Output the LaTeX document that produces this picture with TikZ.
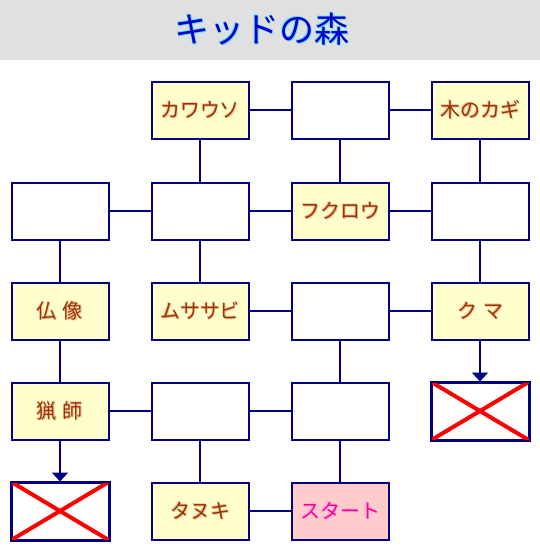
\documentclass[tikz,border=0pt]{standalone}
\usepackage{fontspec}
\newfontfamily\jp{Noto Sans CJK JP}
\usetikzlibrary{arrows.meta}
\definecolor{navy}{HTML}{000080}
\definecolor{yel}{HTML}{FFFFCC}
\definecolor{pinkf}{HTML}{FFCCCC}
\definecolor{txt}{HTML}{993300}
\definecolor{pinkt}{HTML}{FF0099}
\definecolor{ttl}{HTML}{0000CC}
\definecolor{band}{HTML}{E0E0E0}
\definecolor{glowo}{HTML}{F2C8A0}
\definecolor{glowp}{HTML}{FFB0D8}
\definecolor{glowc}{HTML}{70E0F0}
\newcommand\glowtxt[2]{\leavevmode\rlap{\textcolor{#2}{\kern1pt\raisebox{-1pt}{#1}}}\rlap{\textcolor{#2}{\kern-0.7pt\raisebox{0.7pt}{#1}}}\rlap{\textcolor{#2}{\kern0.5pt{#1}}}#1}
\tikzset{
  room/.style={draw=navy, line width=2pt, fill=white, minimum width=97pt, minimum height=57pt, inner sep=0pt, font=\jp\fontsize{20}{20}\selectfont, text=txt},
  item/.style={room, fill=yel},
  startbox/.style={room, fill=pinkf, text=pinkt},
  link/.style={draw=navy, line width=2pt},
  arr/.style={link, -{Triangle[width=16pt,length=9pt]}},
  cross/.style={draw=red, line width=4pt}
}
\begin{document}
\begin{tikzpicture}[x=1pt,y=-1pt]
\useasboundingbox (0,0) rectangle (540,550);
\fill[band] (0,0) rectangle (540,60);
\node[font=\jp\fontsize{35}{35}\selectfont, text=ttl] (title) at (262,29) {\glowtxt{キッドの森}{glowc}};
% row 1
\node[item] (a2) at (200,110) {\glowtxt{カワウソ}{glowo}};
\node[room] (a3) at (340,110) {};
\node[item] (a4) at (480,110) {\glowtxt{木のカギ}{glowo}};
% row 2
\node[room] (b1) at (60,211) {};
\node[room] (b2) at (200,211) {};
\node[item] (b3) at (340,211) {\glowtxt{フクロウ}{glowo}};
\node[room] (b4) at (480,211) {};
% row 3
\node[item] (c1) at (60,311) {\glowtxt{仏\hspace{0.3em}像}{glowo}};
\node[item] (c2) at (200,311) {\glowtxt{ムササビ}{glowo}};
\node[room] (c3) at (340,311) {};
\node[item] (c4) at (480,311) {\glowtxt{ク\hspace{0.3em}マ}{glowo}};
% row 4
\node[item] (d1) at (60,411) {\glowtxt{猟\hspace{0.3em}師}{glowo}};
\node[room] (d2) at (200,411) {};
\node[room] (d3) at (340,411) {};
\node[room] (d4) at (480,411) {};
% row 5
\node[room] (e1) at (60,511) {};
\node[item] (e2) at (200,511) {\glowtxt{タヌキ}{glowo}};
\node[startbox] (e3) at (340,511) {\glowtxt{スタート}{glowp}};
% crosses
\foreach \n in {d4,e1}{
  \begin{scope}
    \clip (\n.south west) rectangle (\n.north east);
    \draw[cross] (\n.north west) -- (\n.south east);
    \draw[cross] (\n.south west) -- (\n.north east);
  \end{scope}
  \draw[navy, line width=2pt] (\n.south west) rectangle (\n.north east);
}
% horizontal links
\draw[link] (a2) -- (a3);
\draw[link] (a3) -- (a4);
\draw[link] (b1) -- (b2);
\draw[link] (b2) -- (b3);
\draw[link] (b3) -- (b4);
\draw[link] (c2) -- (c3);
\draw[link] (c3) -- (c4);
\draw[link] (d1) -- (d2);
\draw[link] (d2) -- (d3);
\draw[link] (e2) -- (e3);
% vertical links
\draw[link] (a2) -- (b2);
\draw[link] (a3) -- (b3);
\draw[link] (a4) -- (b4);
\draw[link] (b1) -- (c1);
\draw[link] (b2) -- (c2);
\draw[link] (b4) -- (c4);
\draw[link] (c1) -- (d1);
\draw[link] (c3) -- (d3);
\draw[arr] (c4) -- (d4);
\draw[arr] (d1) -- (e1);
\draw[link] (d2) -- (e2);
\draw[link] (d3) -- (e3);
\end{tikzpicture}
\end{document}
